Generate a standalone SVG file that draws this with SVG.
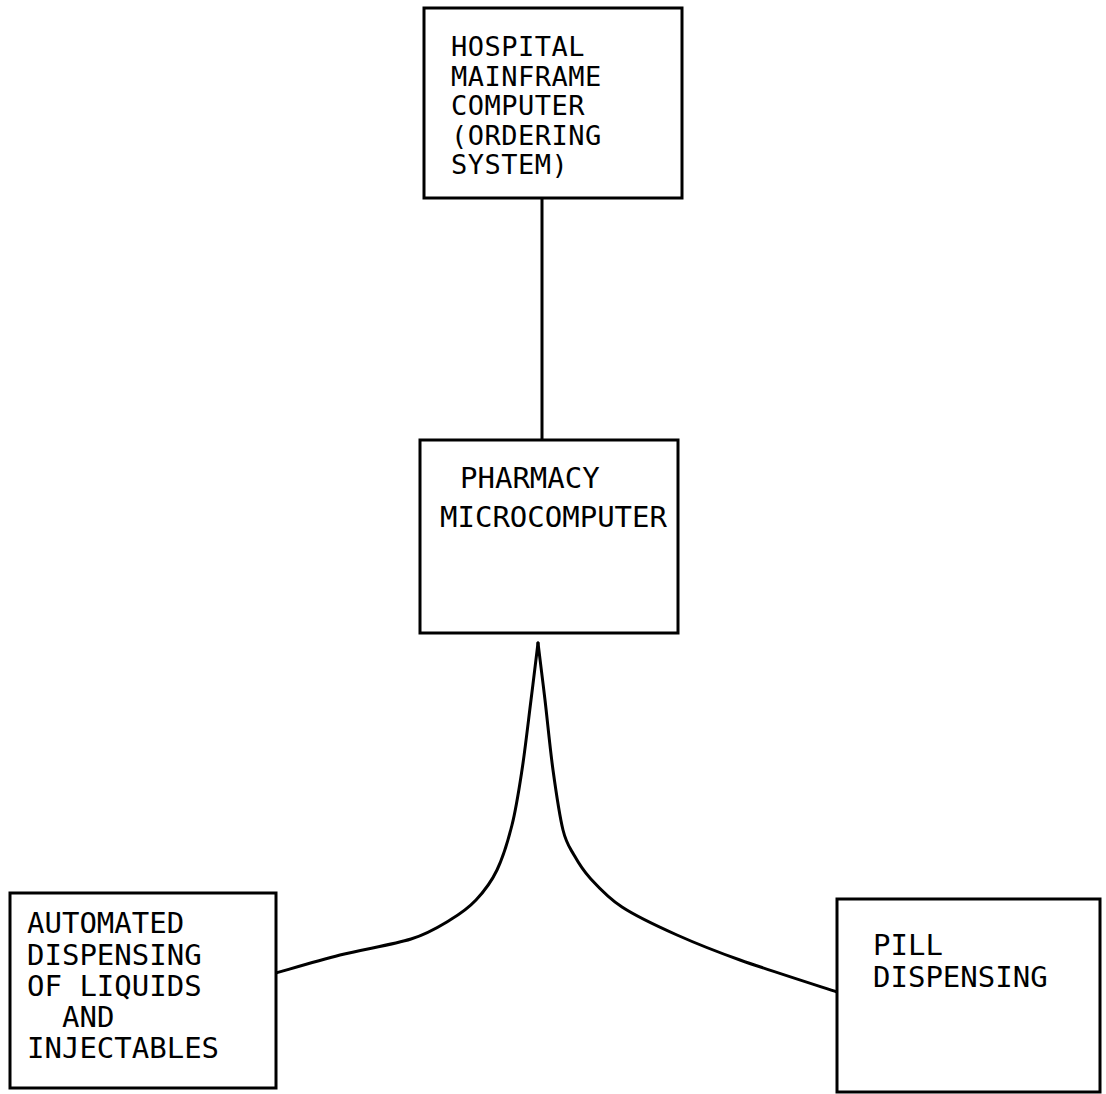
<svg xmlns="http://www.w3.org/2000/svg" width="1106" height="1094" viewBox="0 0 1106 1094">
  <style>
    .box { fill: #ffffff; stroke: #000000; stroke-width: 3; }
    .wire { fill: none; stroke: #000000; stroke-width: 3; stroke-linejoin: round; stroke-linecap: round; }
    .lbl { font-family: "DejaVu Sans Mono", "Liberation Mono", monospace; font-size: 29px; fill: #000000; }
    .lbl.tight { font-size: 27px; letter-spacing: 0.5px; }
  </style>
  <rect width="1106" height="1094" fill="#ffffff"/>

  <!-- links between units: a straight trunk and a forked branch to the dispensers -->
  <g id="connectors">
    <line class="wire" x1="542" y1="198" x2="542" y2="440"/>
    <path class="wire" d="M538,643 C536.8,652.5 533.7,678.8 531,700 C528.3,721.2 525.2,749.2 522,770 C518.8,790.8 516.2,808.3 512,825 C507.8,841.7 503,857.5 497,870 C491,882.5 483.8,891.7 476,900 C468.2,908.3 460.8,913.5 450,920 C439.2,926.5 429.3,933.2 411,939 C392.7,944.8 362.5,949.3 340,955 C317.5,960.7 286.7,970 276,973"/>
    <path class="wire" d="M538,643 C539.2,652.5 542.5,678.8 545,700 C547.5,721.2 550,748.3 553,770 C556,791.7 559.5,815.8 563,830 C566.5,844.2 569.5,847 574,855 C578.5,863 582,869.3 590,878 C598,886.7 607.5,897.5 622,907 C636.5,916.5 657.3,926.2 677,935 C696.7,943.8 713.3,950.5 740,960 C766.7,969.5 820.8,986.7 837,992"/>
  </g>

  <g id="mainframe">
    <rect class="box" x="424" y="8" width="258" height="190"/>
    <text class="lbl tight" x="451" y="56">HOSPITAL</text>
    <text class="lbl tight" x="451" y="85.5">MAINFRAME</text>
    <text class="lbl tight" x="451" y="115">COMPUTER</text>
    <text class="lbl tight" x="451" y="144.5">(ORDERING</text>
    <text class="lbl tight" x="451" y="174">SYSTEM)</text>
  </g>

  <g id="pharmacy">
    <rect class="box" x="420" y="440" width="258" height="193"/>
    <text class="lbl" x="460" y="488">PHARMACY</text>
    <text class="lbl" x="440" y="527">MICROCOMPUTER</text>
  </g>

  <g id="liquids">
    <rect class="box" x="10" y="893" width="266" height="195"/>
    <text class="lbl" x="27" y="933">AUTOMATED</text>
    <text class="lbl" x="27" y="965">DISPENSING</text>
    <text class="lbl" x="27" y="996">OF LIQUIDS</text>
    <text class="lbl" x="62" y="1027">AND</text>
    <text class="lbl" x="27" y="1058">INJECTABLES</text>
  </g>

  <g id="pills">
    <rect class="box" x="837" y="899" width="263" height="193"/>
    <text class="lbl" x="873" y="955">PILL</text>
    <text class="lbl" x="873" y="987">DISPENSING</text>
  </g>
</svg>
